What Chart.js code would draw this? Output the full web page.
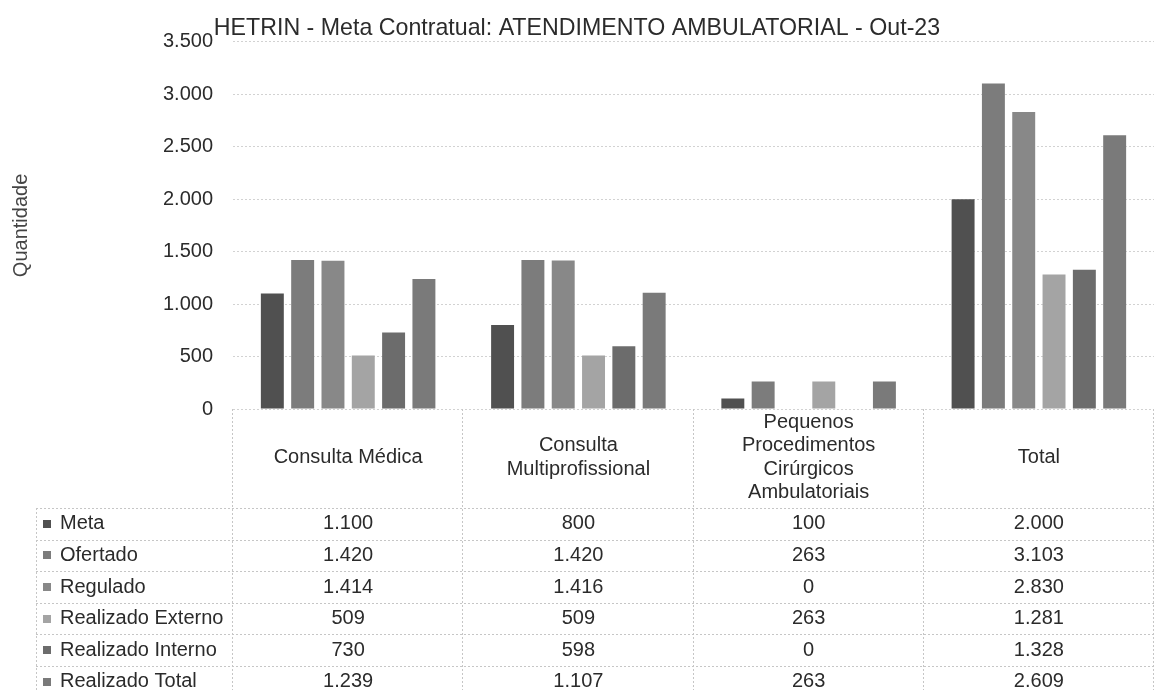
<!DOCTYPE html>
<html lang="pt-BR">
<head>
<meta charset="utf-8">
<title>HETRIN - Atendimento Ambulatorial - Out-23</title>
<script src="https://cdn.jsdelivr.net/npm/chart.js@4.4.1/dist/chart.umd.min.js"></script>
<style>
  html, body { margin: 0; padding: 0; background: #fff; }
  #wrap { position: relative; width: 1154px; height: 690px; }
</style>
</head>
<body>
<div id="wrap"><canvas id="chart"></canvas></div>
<script>
/* ── dados ── */
const categories = [
  ['Consulta Médica'],
  ['Consulta', 'Multiprofissional'],
  ['Pequenos', 'Procedimentos', 'Cirúrgicos', 'Ambulatoriais'],
  ['Total']
];
const seriesNames = ['Meta', 'Ofertado', 'Regulado', 'Realizado Externo', 'Realizado Interno', 'Realizado Total'];
const meta        = [1100,  800, 100, 2000];
const ofertado    = [1420, 1420, 263, 3103];
const regulado    = [1414, 1416,   0, 2830];
const realExterno = [ 509,  509, 263, 1281];
const realInterno = [ 730,  598,   0, 1328];
const realTotal   = [1239, 1107, 263, 2609];
const yMin = 0, yMax = 3500, yStep = 500;

/* ── estilo ── */
const seriesColors = ['#505050', '#7c7c7c', '#888888', '#a4a4a4', '#6c6c6c', '#7a7a7a'];
const FONT = "'Liberation Sans', Arial, sans-serif";
const TXT = '#2b2b2b';
const LINE = '#c6c6c6';
const HEADER_H = 99;     // altura da linha de categorias
const ROW_H = 31.6;      // altura das linhas da tabela
const LEGEND_LEFT = 36;  // borda esquerda da coluna de legenda

const seriesValues = [meta, ofertado, regulado, realExterno, realInterno, realTotal];

// separador de milhar com ponto (pt-BR)
const fmt = v => String(v).replace(/\B(?=(\d{3})+(?!\d))/g, '.');

Chart.defaults.font.family = FONT;

// tabela de dados abaixo do gráfico (estilo Excel)
const dataTablePlugin = {
  id: 'dataTable',
  afterDraw(chart) {
    const { ctx, chartArea, scales: { x } } = chart;
    const top = chartArea.bottom;
    const colW = x.width / categories.length;
    const headBottom = top + HEADER_H;
    const bottom = headBottom + seriesNames.length * ROW_H;

    ctx.save();
    ctx.strokeStyle = LINE;
    ctx.lineWidth = 1;
    ctx.setLineDash([2, 2]);
    const seg = (x0, y0, x1, y1) => { ctx.beginPath(); ctx.moveTo(x0, y0); ctx.lineTo(x1, y1); ctx.stroke(); };

    for (let r = 0; r <= seriesNames.length; r++) {
      const y = Math.round(headBottom + r * ROW_H) + 0.5;
      seg(LEGEND_LEFT, y, x.right, y);
    }
    seg(LEGEND_LEFT + 0.5, headBottom, LEGEND_LEFT + 0.5, bottom);
    for (let c = 0; c <= categories.length; c++) {
      const xx = Math.round(x.left + c * colW) - 0.5;
      seg(xx, top, xx, bottom);
    }
    ctx.setLineDash([]);

    ctx.fillStyle = TXT;
    ctx.font = `20px ${FONT}`;
    ctx.textBaseline = 'middle';

    // cabeçalho: nomes das categorias
    ctx.textAlign = 'center';
    const lineH = 23.5;
    categories.forEach((lines, i) => {
      const cx = x.getPixelForValue(i);
      const cy = (top + headBottom) / 2 - 1;
      const y0 = cy - (lines.length - 1) * lineH / 2;
      lines.forEach((t, k) => ctx.fillText(t, cx, y0 + k * lineH));
    });

    // linhas de séries
    seriesNames.forEach((name, r) => {
      const cy = headBottom + r * ROW_H + ROW_H / 2;
      ctx.fillStyle = seriesColors[r];
      ctx.fillRect(43, Math.round(cy - 4), 8, 8);
      ctx.fillStyle = TXT;
      ctx.textAlign = 'left';
      ctx.fillText(name, 60, cy);
      ctx.textAlign = 'center';
      seriesValues[r].forEach((v, i) => ctx.fillText(fmt(v), x.getPixelForValue(i), cy));
    });
    ctx.restore();
  }
};

new Chart(document.getElementById('chart').getContext('2d'), {
  type: 'bar',
  data: {
    labels: categories,
    datasets: seriesNames.map((name, i) => ({
      label: name,
      data: seriesValues[i],
      backgroundColor: seriesColors[i],
      borderWidth: 0,
      categoryPercentage: 0.79,
      barPercentage: 0.757
    }))
  },
  options: {
    responsive: true,
    maintainAspectRatio: false,
    animation: false,
    layout: { padding: { top: 0, right: 0, bottom: 281, left: 0 } },
    plugins: {
      legend: { display: false },
      tooltip: { enabled: false },
      title: {
        display: true,
        text: 'HETRIN - Meta Contratual: ATENDIMENTO AMBULATORIAL - Out-23',
        color: TXT,
        font: { size: 23.2, weight: 'normal' },
        padding: { top: 15, bottom: -1 }
      }
    },
    scales: {
      x: { display: false },
      y: {
        min: yMin, max: yMax,
        ticks: { stepSize: yStep, padding: 20, color: TXT, font: { size: 20 }, callback: v => fmt(v) },
        grid: { color: '#d2d2d2', drawTicks: false },
        border: { display: false, dash: [2, 2] },
        title: { display: true, text: 'Quantidade', color: '#444', font: { size: 20 }, padding: { top: 9, bottom: 0 } },
        afterFit(s) { s.width = 233; }
      }
    }
  },
  plugins: [dataTablePlugin]
});
</script>
</body>
</html>
